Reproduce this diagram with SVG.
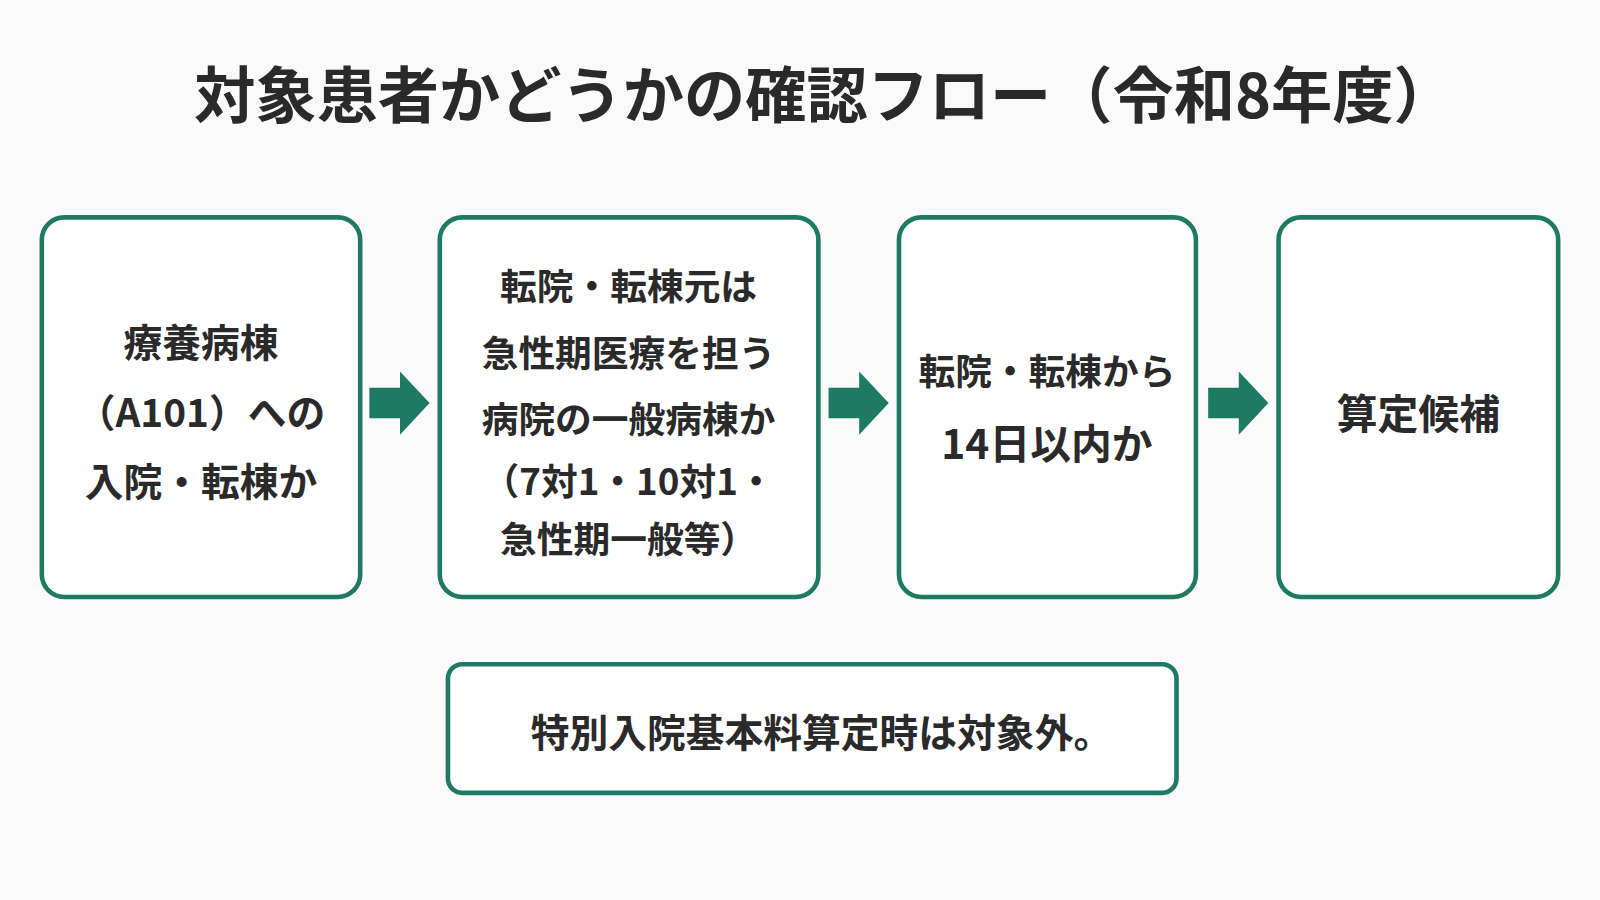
<svg xmlns="http://www.w3.org/2000/svg" width="1600" height="900" viewBox="0 0 1600 900">
<style>
.box{fill:#fff;stroke:#1f7a63;stroke-width:4.5}
.t{font-family:"Noto Sans CJK JP","Noto Sans",sans-serif;font-weight:bold;fill:#2a2a2a;text-anchor:middle}
.a{fill:#1f7a63}
</style>
<rect width="1600" height="900" fill="#fafafa"/>
<g transform="scale(1.0204)">
<text class="t" x="808" y="116" font-size="60">対象患者かどうかの確認フロー（令和8年度）</text>
<g id="n1"><rect class="box" x="41" y="213" width="312" height="372" rx="22"/>
<text class="t" x="197" y="350" font-size="38">療養病棟</text>
<text class="t" x="197" y="418" font-size="38">（A101）への</text>
<text class="t" x="197" y="486" font-size="38">入院・転棟か</text></g>
<g id="n2"><rect class="box" x="431" y="213" width="371" height="372" rx="22"/>
<text class="t" x="616" y="294" font-size="36">転院・転棟元は</text>
<text class="t" x="616" y="360" font-size="36">急性期医療を担う</text>
<text class="t" x="616" y="424" font-size="36">病院の一般病棟か</text>
<text class="t" x="616" y="485" font-size="36">（7対1・10対1・</text>
<text class="t" x="616" y="542" font-size="36">急性期一般等）</text></g>
<g id="n3"><rect class="box" x="881" y="213" width="291" height="372" rx="22"/>
<text class="t" x="1026" y="377" font-size="36">転院・転棟から</text>
<text class="t" x="1026" y="450" font-size="40">14日以内か</text></g>
<g id="n4"><rect class="box" x="1253" y="213" width="274" height="372" rx="22"/>
<text class="t" x="1390" y="420" font-size="40">算定候補</text></g>
<g id="n5"><rect class="box" x="439" y="651" width="714" height="126" rx="14" stroke-width="3.5"/>
<text class="t" x="805" y="732" font-size="38">特別入院基本料算定時は対象外。</text></g>
<g id="connectors">
<polygon class="a" points="362,380 392,380 392,364 421,395 392,426 392,410 362,410"/>
<polygon class="a" points="812,380 842,380 842,364 871,395 842,426 842,410 812,410"/>
<polygon class="a" points="1184,380 1214,380 1214,364 1243,395 1214,426 1214,410 1184,410"/>
</g>
</g>
</svg>
